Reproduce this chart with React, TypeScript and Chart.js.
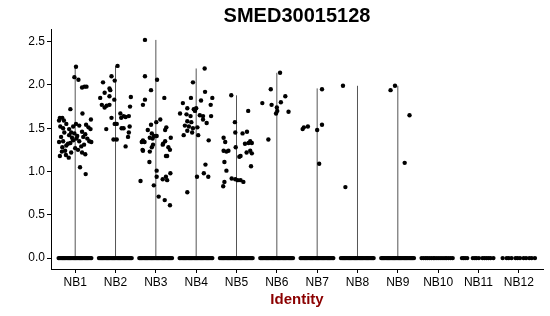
import React, { useEffect, useRef } from "react";
import { Chart, registerables } from "chart.js";

Chart.register(...registerables);

const FONT = "'Liberation Sans', Arial, Helvetica, sans-serif";

const TITLE = "SMED30015128";
const X_TITLE = "Identity";
const CATEGORIES = ["NB1", "NB2", "NB3", "NB4", "NB5", "NB6", "NB7", "NB8", "NB9", "NB10", "NB11", "NB12"];
const Y_TICKS = [0, 0.5, 1.0, 1.5, 2.0, 2.5];
const Y_TICK_LABELS = ["0.0", "0.5", "1.0", "1.5", "2.0", "2.5"];

// max expression per group (violin extent; null = all zero)
const VIOLIN_MAX: (number | null)[] = [2.21, 2.22, 2.52, 2.19, 1.88, 2.14, 1.96, 1.99, 1.99, null, null, null];

// non-zero cells: [jitter, value]
const NB1_POINTS = [
  [0.02, 2.21], [-0.02, 2.09], [0.08, 2.06], [0.17, 1.97], [0.23, 1.98], [0.28, 1.98],
  [0.18, 1.67], [-0.12, 1.72], [-0.38, 1.62], [-0.32, 1.62], [-0.40, 1.59], [-0.28, 1.59],
  [0.39, 1.60], [0.27, 1.54], [0.33, 1.51], [0.38, 1.49], [-0.37, 1.52], [-0.30, 1.50],
  [-0.22, 1.55], [-0.15, 1.49], [-0.10, 1.45], [-0.05, 1.52], [0.02, 1.55], [0.10, 1.53],
  [0.17, 1.46], [0.25, 1.43], [0.30, 1.38], [0.35, 1.35], [0.40, 1.34], [-0.35, 1.40],
  [-0.30, 1.35], [-0.22, 1.30], [-0.15, 1.42], [-0.08, 1.39], [-0.02, 1.44], [0.05, 1.41],
  [0.10, 1.35], [0.15, 1.29], [0.22, 1.31], [-0.40, 1.34], [-0.32, 1.28], [-0.25, 1.24],
  [-0.18, 1.32], [-0.10, 1.22], [0.00, 1.27], [0.07, 1.25], [0.17, 1.22], [0.25, 1.20],
  [-0.38, 1.18], [-0.33, 1.23], [-0.23, 1.19], [-0.16, 1.16], [0.12, 1.05], [0.26, 0.97],
  [-0.05, 1.36], [0.03, 1.38], [-0.27, 1.45], [0.20, 1.40], [-0.12, 1.33],
];
const NB2_POINTS = [
  [0.05, 2.22], [-0.10, 2.10], [-0.02, 2.05], [-0.31, 2.03], [-0.15, 1.96], [-0.13, 1.94],
  [-0.27, 1.91], [-0.38, 1.85], [-0.15, 1.87], [-0.03, 1.83], [0.38, 1.86], [-0.34, 1.77],
  [-0.27, 1.74], [-0.22, 1.76], [-0.15, 1.77], [0.36, 1.75], [0.12, 1.67], [0.20, 1.64],
  [0.14, 1.62], [0.25, 1.63], [0.33, 1.64], [-0.10, 1.62], [-0.02, 1.55], [0.03, 1.55],
  [-0.23, 1.49], [0.15, 1.50], [0.20, 1.50], [0.35, 1.52], [0.33, 1.45], [0.31, 1.40],
  [0.03, 1.37], [-0.05, 1.37], [0.25, 1.29],
];
const NB3_POINTS = [
  [-0.27, 2.52], [-0.27, 2.10], [0.03, 2.06], [-0.12, 1.94], [-0.27, 1.83], [-0.32, 1.77],
  [0.21, 1.85], [0.11, 1.60], [0.01, 1.57], [-0.12, 1.54], [0.26, 1.51], [0.23, 1.48],
  [-0.20, 1.48], [-0.10, 1.44], [-0.05, 1.41], [0.02, 1.41], [-0.15, 1.39], [-0.08, 1.38],
  [-0.32, 1.36], [-0.35, 1.34], [-0.28, 1.34], [0.37, 1.39], [0.23, 1.35], [0.18, 1.32],
  [0.17, 1.31], [-0.07, 1.31], [-0.10, 1.28], [0.31, 1.28], [0.35, 1.25], [-0.33, 1.25],
  [-0.32, 1.24], [-0.15, 1.23], [0.28, 1.18], [0.25, 1.18], [-0.16, 1.11], [0.02, 1.01],
  [0.36, 0.98], [0.02, 0.94], [0.25, 0.94], [0.17, 0.91], [0.28, 0.90], [-0.38, 0.89],
  [-0.05, 0.84], [0.07, 0.71], [0.22, 0.67], [0.35, 0.61],
];
const NB4_POINTS = [
  [0.21, 2.19], [-0.08, 2.03], [0.22, 1.92], [-0.13, 1.85], [0.12, 1.82], [0.40, 1.85],
  [-0.33, 1.79], [0.36, 1.77], [-0.22, 1.73], [-0.06, 1.72], [0.00, 1.73], [-0.03, 1.70],
  [-0.40, 1.67], [-0.24, 1.66], [-0.14, 1.64], [0.09, 1.65], [0.17, 1.64], [0.37, 1.64],
  [0.17, 1.60], [0.26, 1.56], [-0.22, 1.58], [-0.12, 1.57], [-0.28, 1.53], [-0.18, 1.52],
  [-0.08, 1.50], [0.03, 1.51], [-0.22, 1.47], [-0.10, 1.45], [-0.31, 1.42], [0.05, 1.42],
  [0.31, 1.36], [0.23, 1.08], [0.19, 0.98], [0.30, 0.94], [0.02, 0.94], [-0.22, 0.76],
];
const NB5_POINTS = [
  [-0.13, 1.88], [0.29, 1.70], [-0.04, 1.57], [-0.03, 1.45], [0.15, 1.44], [0.26, 1.46],
  [-0.32, 1.39], [-0.28, 1.34], [0.21, 1.32], [0.30, 1.33], [0.34, 1.35], [0.38, 1.33],
  [-0.02, 1.28], [-0.32, 1.24], [-0.25, 1.23], [-0.20, 1.24], [0.25, 1.22], [0.34, 1.24],
  [0.38, 1.21], [0.07, 1.17], [0.10, 1.18], [-0.30, 1.11], [0.36, 1.06], [-0.25, 1.01],
  [-0.12, 0.92], [-0.03, 0.91], [0.03, 0.90], [0.10, 0.90], [0.17, 0.88], [-0.30, 0.88],
  [-0.33, 0.83],
];
const NB6_POINTS = [
  [0.08, 2.14], [-0.15, 1.95], [0.21, 1.87], [-0.36, 1.79], [-0.13, 1.77], [0.10, 1.80],
  [0.00, 1.74], [0.01, 1.70], [-0.02, 1.67], [0.29, 1.69], [-0.21, 1.37],
];
const NB7_POINTS = [[0.12, 1.95], [-0.36, 1.49], [-0.33, 1.51], [-0.23, 1.52], [0.00, 1.48], [0.12, 1.54], [0.05, 1.09]];
const NB8_POINTS = [[-0.36, 1.99], [-0.30, 0.82]];
const NB9_POINTS = [[-0.07, 1.99], [-0.18, 1.94], [0.29, 1.65], [0.17, 1.10]];
const NB10_POINTS: number[][] = [];
const NB11_POINTS: number[][] = [];
const NB12_POINTS: number[][] = [];

// zero-expression cells: jitter positions along the 0 line
const DENSE_ZERO_JITTER = [
  -0.41, -0.38, -0.35, -0.32, -0.29, -0.26, -0.23, -0.20, -0.17, -0.14, -0.11, -0.08, -0.05, -0.02,
  0.01, 0.04, 0.07, 0.10, 0.13, 0.16, 0.19, 0.22, 0.25, 0.28, 0.31, 0.34, 0.37, 0.40,
];
const NB10_ZERO_JITTER = [-0.41, -0.36, -0.31, -0.27, -0.22, -0.17, -0.12, -0.08, -0.03, 0.02, 0.07, 0.12, 0.17, 0.21, 0.26, 0.31, 0.36];
const NB11_ZERO_JITTER = [-0.41, -0.37, -0.33, -0.28, -0.14, -0.09, -0.05, 0.01, 0.10, 0.15, 0.20, 0.25, 0.30, 0.37];
const NB12_ZERO_JITTER = [-0.40, -0.30, -0.25, -0.18, -0.08, -0.03, 0.03, 0.12, 0.18, 0.26, 0.32, 0.40];

const GROUP_POINTS = [
  NB1_POINTS, NB2_POINTS, NB3_POINTS, NB4_POINTS, NB5_POINTS, NB6_POINTS,
  NB7_POINTS, NB8_POINTS, NB9_POINTS, NB10_POINTS, NB11_POINTS, NB12_POINTS,
];
const GROUP_ZEROS = [
  DENSE_ZERO_JITTER, DENSE_ZERO_JITTER, DENSE_ZERO_JITTER, DENSE_ZERO_JITTER, DENSE_ZERO_JITTER,
  DENSE_ZERO_JITTER, DENSE_ZERO_JITTER, DENSE_ZERO_JITTER, DENSE_ZERO_JITTER,
  NB10_ZERO_JITTER, NB11_ZERO_JITTER, NB12_ZERO_JITTER,
];

const Y_MIN = -0.126;
const Y_MAX = 2.646;

export default function App() {
  const ref = useRef<HTMLCanvasElement | null>(null);

  useEffect(() => {
    if (!ref.current) return;
    const points: { x: number; y: number }[] = [];
    GROUP_ZEROS.forEach((zs, i) => zs.forEach((j) => points.push({ x: i + j, y: 0 })));
    GROUP_POINTS.forEach((ps, i) => ps.forEach(([j, v]) => points.push({ x: i + j, y: v })));

    const violinSets: any[] = [];
    VIOLIN_MAX.forEach((m, i) => {
      if (m === null) return;
      violinSets.push({
        type: "line",
        data: [{ x: i, y: 0 }, { x: i, y: m }],
        borderColor: "#555555",
        borderWidth: 1,
        pointRadius: 0,
        fill: false,
        order: 2,
      });
    });

    const chart = new Chart(ref.current, {
      type: "scatter",
      data: {
        datasets: [
          ...violinSets,
          {
            type: "scatter",
            data: points,
            backgroundColor: "#000000",
            borderWidth: 0,
            pointRadius: 2.2,
            order: 1,
          },
        ],
      },
      options: {
        responsive: false,
        animation: false,
        layout: { padding: { left: 0, right: 7, top: 0, bottom: 0 } },
        plugins: {
          legend: { display: false },
          tooltip: { enabled: false },
          title: {
            display: true,
            fullSize: false,
            text: TITLE,
            color: "#000000",
            font: { family: FONT, size: 20, weight: "bold", lineHeight: 1.2 },
            padding: { top: 4, bottom: 1 },
          },
        },
        scales: {
          x: {
            type: "linear",
            min: -0.6,
            max: 11.6,
            afterBuildTicks: (s: any) => {
              s.ticks = CATEGORIES.map((_, i) => ({ value: i }));
            },
            afterFit: (s: any) => {
              s.height = 47;
            },
            ticks: {
              autoSkip: false,
              maxRotation: 0,
              padding: 2,
              color: "#000000",
              font: { family: FONT, size: 12 },
              callback: (_v: any, i: number) => CATEGORIES[i],
            },
            grid: { display: true, drawOnChartArea: false, drawTicks: true, tickLength: 4, color: "#000000", lineWidth: 1 },
            border: { display: true, color: "#000000", width: 1 },
            title: {
              display: true,
              text: X_TITLE,
              color: "#8B0000",
              font: { family: FONT, size: 15, weight: "bold", lineHeight: 1.2 },
              padding: { top: 0, bottom: 7.5 },
            },
          },
          y: {
            type: "linear",
            min: Y_MIN,
            max: Y_MAX,
            afterBuildTicks: (s: any) => {
              s.ticks = Y_TICKS.map((v) => ({ value: v }));
            },
            afterFit: (s: any) => {
              s.width = 51;
            },
            ticks: {
              padding: 2,
              color: "#000000",
              font: { family: FONT, size: 12 },
              callback: (_v: any, i: number) => Y_TICK_LABELS[i],
            },
            grid: { display: true, drawOnChartArea: false, drawTicks: true, tickLength: 4, color: "#000000", lineWidth: 1 },
            border: { display: true, color: "#000000", width: 1 },
          },
        },
      } as any,
    });
    return () => chart.destroy();
  }, []);

  return (
    <div style={{ position: "absolute", left: 0, top: 0, width: 550, height: 316, background: "#ffffff" }}>
      <canvas ref={ref} width={550} height={316} style={{ display: "block" }} />
    </div>
  );
}
